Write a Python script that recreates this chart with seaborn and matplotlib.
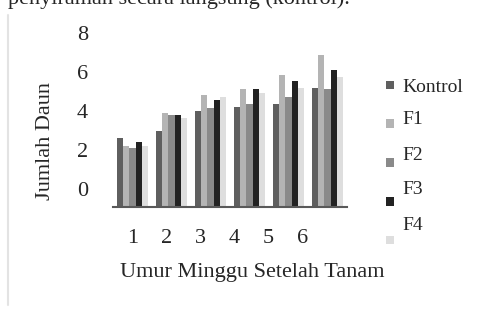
import numpy as np
import pandas as pd
import seaborn as sns
import matplotlib.pyplot as plt
from matplotlib.transforms import ScaledTranslation
from matplotlib.lines import Line2D

# Leaf counts per week
weeks = ["1", "2", "3", "4", "5", "6"]
treatments = ["Kontrol", "F1", "F2", "F3", "F4"]
kontrol = [3.52, 3.90, 4.92, 5.11, 5.28, 6.12]
f1 = [3.14, 4.80, 5.73, 6.04, 6.75, 7.78]
f2 = [3.04, 4.72, 5.09, 5.28, 5.66, 6.04]
f3 = [3.32, 4.72, 5.47, 6.04, 6.48, 7.03]
f4 = [3.14, 4.55, 5.66, 5.83, 6.12, 6.68]
y_ticks = [0, 2, 4, 6, 8]

colors = ["#5f5f5f", "#b4b4b4", "#8a8a8a", "#222222", "#dedede"]
text_color = "#262626"

sns.set_theme(style="white")
plt.rcParams["font.family"] = ["Liberation Serif", "DejaVu Serif"]

df = pd.DataFrame({
    "week": weeks * 5,
    "treatment": np.repeat(treatments, len(weeks)),
    "value": kontrol + f1 + f2 + f3 + f4,
})

fig = plt.figure(figsize=(4.83, 3.10), dpi=100)
ax = fig.add_axes([113 / 483, 103 / 310, 234 / 483, 156 / 310])

sns.barplot(data=df, x="week", y="value", hue="treatment", hue_order=treatments,
            palette=colors, width=0.8, saturation=1, linewidth=0, ax=ax, legend=True)

ax.set_ylim(0, 8)
ax.set_xlim(-0.5, 5.5)
for s in ["top", "right", "left"]:
    ax.spines[s].set_visible(False)
ax.spines["bottom"].set_color("#595959")
ax.spines["bottom"].set_linewidth(1.5)

# y tick labels (drawn shifted upward as in the original)
ax.set_yticks(y_ticks)
ax.set_yticklabels([str(t) for t in y_ticks])
ax.tick_params(axis="y", length=0, pad=18, labelsize=16, labelcolor=text_color)
for lab in ax.get_yticklabels():
    lab.set_transform(lab.get_transform() + ScaledTranslation(0, 18 / 100, fig.dpi_scale_trans))

# x tick labels (slightly compressed spacing as in the original)
ax.tick_params(axis="x", length=0, pad=16, labelsize=16, labelcolor=text_color)
for i, lab in enumerate(ax.get_xticklabels()):
    lab.set_transform(lab.get_transform() + ScaledTranslation(-5 * i / 100, 0, fig.dpi_scale_trans))

ax.set_xlabel("Umur Minggu Setelah Tanam", fontsize=16, color=text_color)
ax.xaxis.set_label_coords((252 - 113) / 234, (207 - 272) / 156)
ax.xaxis.label.set_va("center")
ax.set_ylabel("Jumlah Daun", fontsize=16, color=text_color)
ax.yaxis.set_label_coords((45 - 113) / 234, (207 - 141) / 156)
ax.yaxis.label.set_va("center")

# legend
handles, labels = ax.get_legend_handles_labels()
ax.legend_.remove()
leg = fig.legend(handles, labels, loc="upper left", bbox_to_anchor=(386 / 483, 1 - 79 / 310),
                 frameon=False, fontsize=14, handlelength=0.42, handleheight=0.3,
                 handletextpad=0.4, labelspacing=1.12, borderpad=0, borderaxespad=0,
                 labelcolor=text_color)
for i, t in enumerate(leg.get_texts()):
    shift = [0, 7, 10, 14, 17][i]
    t.set_position((0, shift))

# surrounding page: cut-off sentence and frame line
fig.text(8 / 483, 1 - 4 / 310, "penyiraman secara langsung (kontrol).", fontsize=16,
         color=text_color, va="baseline", ha="left")
fig.add_artist(Line2D([8 / 483, 8 / 483], [1 - 15 / 310, 1 - 305 / 310],
                      transform=fig.transFigure, color="#e3e3e3", linewidth=1.5))

fig.savefig("out.png", dpi=100)
